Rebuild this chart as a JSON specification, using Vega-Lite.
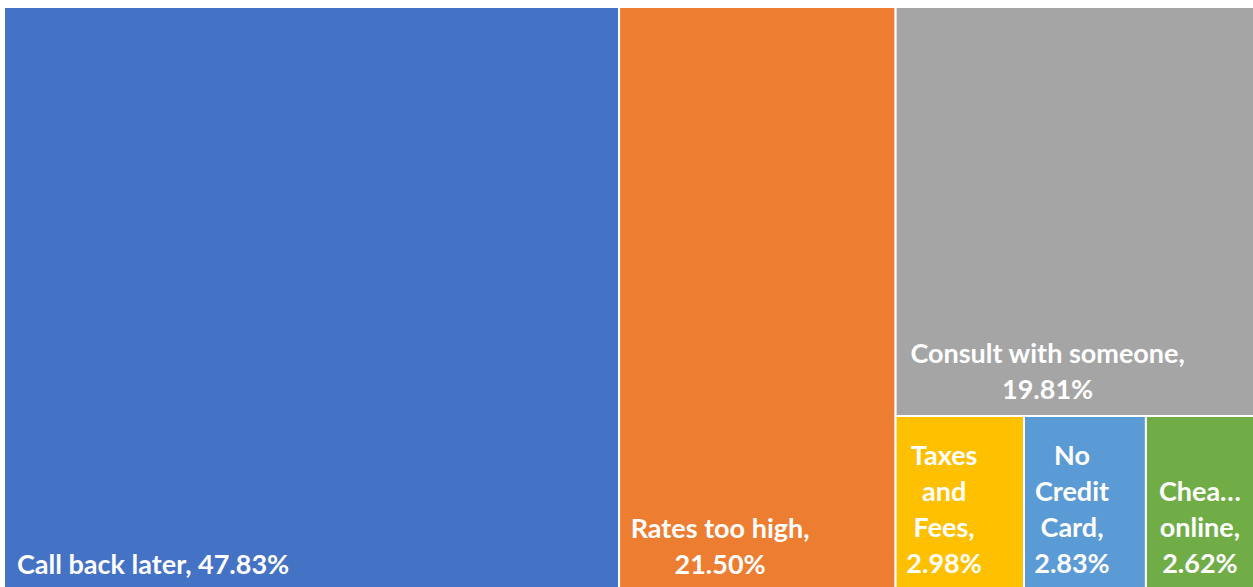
{
  "$schema": "https://vega.github.io/schema/vega-lite/v6.json",
  "width": 1249,
  "height": 580,
  "autosize": "none",
  "padding": {"left": 4, "top": 7, "right": 0, "bottom": 0},
  "background": "white",
  "config": {"view": {"stroke": null}},
  "data": {
    "values": [
      {"reason": "Call back later", "pct": 47.83, "col": 1, "band": 1, "order": 1, "label": "Call back later, 47.83%"},
      {"reason": "Rates too high", "pct": 21.50, "col": 2, "band": 1, "order": 2, "label": "Rates too high,\n21.50%"},
      {"reason": "Consult with someone", "pct": 19.81, "col": 3, "band": 1, "order": 3, "label": "Consult with someone,\n19.81%"},
      {"reason": "Taxes and Fees", "pct": 2.98, "col": 3, "band": 2, "order": 4, "label": "Taxes\nand\nFees,\n2.98%"},
      {"reason": "No Credit Card", "pct": 2.83, "col": 3, "band": 2, "order": 5, "label": "No\nCredit\nCard,\n2.83%"},
      {"reason": "Cheaper online", "pct": 2.62, "col": 3, "band": 2, "order": 6, "label": "Chea…\nonline,\n2.62%"}
    ]
  },
  "transform": [
    {"window": [{"op": "sum", "field": "pct", "as": "cum"}], "sort": [{"field": "order"}], "frame": [null, 0]},
    {"joinaggregate": [{"op": "max", "field": "cum", "as": "colEnd"}, {"op": "sum", "field": "pct", "as": "colTotal"}], "groupby": ["col"]},
    {"joinaggregate": [{"op": "max", "field": "cum", "as": "bandEnd"}, {"op": "sum", "field": "pct", "as": "bandTotal"}], "groupby": ["col", "band"]},
    {"window": [{"op": "sum", "field": "pct", "as": "bandCum"}], "groupby": ["col", "band"], "sort": [{"field": "order"}], "frame": [null, 0]},
    {"calculate": "datum.colEnd - datum.colTotal", "as": "colStart"},
    {"calculate": "datum.colStart + (datum.bandCum - datum.pct) / datum.bandTotal * datum.colTotal", "as": "x0"},
    {"calculate": "datum.colStart + datum.bandCum / datum.bandTotal * datum.colTotal", "as": "x1"},
    {"calculate": "(datum.bandEnd - datum.bandTotal - datum.colStart) / datum.colTotal * 100", "as": "y0"},
    {"calculate": "(datum.bandEnd - datum.colStart) / datum.colTotal * 100", "as": "y1"}
  ],
  "encoding": {
    "x": {"field": "x0", "type": "quantitative", "scale": {"domain": [0, 97.12], "nice": false, "zero": false}, "axis": null},
    "y": {"field": "y0", "type": "quantitative", "scale": {"domain": [0, 99.5], "nice": false, "reverse": true}, "axis": null}
  },
  "layer": [
    {
      "mark": {"type": "rect", "stroke": "white", "strokeWidth": 2, "clip": true},
      "encoding": {
        "x2": {"field": "x1"},
        "y2": {"field": "y1"},
        "color": {
          "field": "reason", "type": "nominal", "legend": null,
          "scale": {
            "domain": ["Call back later", "Rates too high", "Consult with someone", "Taxes and Fees", "No Credit Card", "Cheaper online"],
            "range": ["#4472C4", "#ED7D31", "#A5A5A5", "#FFC000", "#5B9BD5", "#70AD47"]
          }
        }
      }
    },
    {
      "transform": [{"filter": "datum.reason === 'Call back later'"}],
      "mark": {"type": "text", "align": "left", "baseline": "bottom", "dx": 13, "dy": -10, "font": "Lato", "fontWeight": "bold", "fontSize": 27, "color": "white", "lineBreak": "\n", "lineHeight": 36},
      "encoding": {"y": {"field": "y1", "type": "quantitative"}, "text": {"field": "label"}}
    },
    {
      "transform": [{"filter": "datum.reason === 'Rates too high'"}],
      "mark": {"type": "text", "align": "center", "baseline": "bottom", "dx": 101, "dy": -46, "font": "Lato", "fontWeight": "bold", "fontSize": 27, "color": "white", "lineBreak": "\n", "lineHeight": 36},
      "encoding": {"y": {"field": "y1", "type": "quantitative"}, "text": {"field": "label"}}
    },
    {
      "transform": [{"filter": "datum.reason === 'Consult with someone'"}],
      "mark": {"type": "text", "align": "center", "baseline": "bottom", "dx": 152, "dy": -47, "font": "Lato", "fontWeight": "bold", "fontSize": 27, "color": "white", "lineBreak": "\n", "lineHeight": 36},
      "encoding": {"y": {"field": "y1", "type": "quantitative"}, "text": {"field": "label"}}
    },
    {
      "transform": [{"filter": "datum.reason === 'Taxes and Fees'"}],
      "mark": {"type": "text", "align": "center", "baseline": "bottom", "dx": 48.5, "dy": -119, "font": "Lato", "fontWeight": "bold", "fontSize": 27, "color": "white", "lineBreak": "\n", "lineHeight": 36},
      "encoding": {"y": {"field": "y1", "type": "quantitative"}, "text": {"field": "label"}}
    },
    {
      "transform": [{"filter": "datum.reason === 'No Credit Card'"}],
      "mark": {"type": "text", "align": "center", "baseline": "bottom", "dx": 48, "dy": -119, "font": "Lato", "fontWeight": "bold", "fontSize": 27, "color": "white", "lineBreak": "\n", "lineHeight": 36},
      "encoding": {"y": {"field": "y1", "type": "quantitative"}, "text": {"field": "label"}}
    },
    {
      "transform": [{"filter": "datum.reason === 'Cheaper online'"}],
      "mark": {"type": "text", "align": "center", "baseline": "bottom", "dx": 54, "dy": -83, "font": "Lato", "fontWeight": "bold", "fontSize": 27, "color": "white", "lineBreak": "\n", "lineHeight": 36},
      "encoding": {"y": {"field": "y1", "type": "quantitative"}, "text": {"field": "label"}}
    }
  ]
}
